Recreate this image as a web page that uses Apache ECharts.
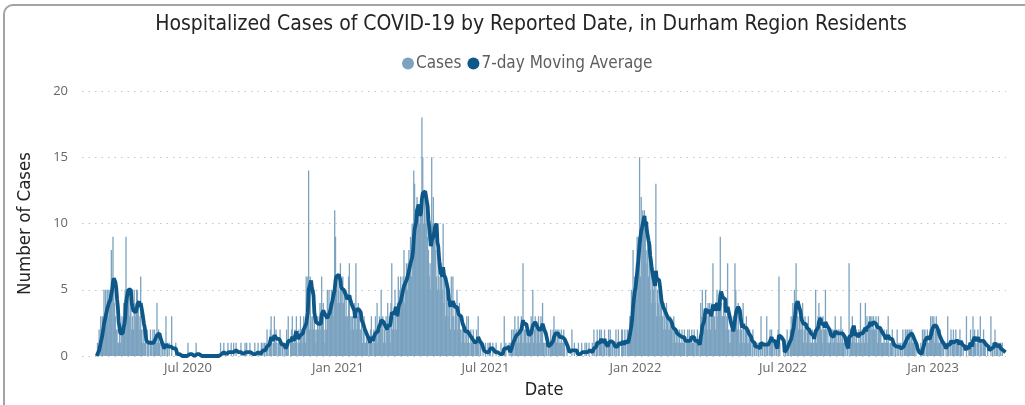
<!DOCTYPE html>
<html>
<head>
<meta charset="utf-8">
<title>Hospitalized Cases of COVID-19 by Reported Date</title>
<script src="https://cdn.jsdelivr.net/npm/echarts@6/dist/echarts.min.js"></script>
<style>
  html, body { margin: 0; padding: 0; background: #fff; overflow: hidden; }
  #chart { position: absolute; left: 0; top: 0; width: 1025px; height: 405px; }
  #frame { position: absolute; left: 3px; top: 4px; width: 1080px; height: 460px; border: 2px solid #a3a3a3; border-radius: 10px; pointer-events: none; }
</style>
</head>
<body>
<div id="chart"></div>
<div id="frame"></div>
<script>
// first reported day of the series
var startDate = '2020-03-11';

// daily hospitalized cases, one line per month (2020 starts Mar 11)
var cases2020 = [
    0,1,0,2,1,3,1, 3,2,5,2,5,3,5, 3,5,4,5,8,5,9,
    5,4,3,2,2,1,1, 2,1,2,3,2,4,3, 5,9,5,4,5,3,5, 4,2,3,2,5,4,3, 5,5,
    4,3,2,6,2,1,2, 1,1,1,0,2,1,1, 0,2,1,0,2,1,2, 1,1,4,1,2,1,0, 1,0,1,
    0,1,0,3,0,1,0, 1,0,0,3,0,0,0, 0,1,0,0,0,0,0, 0,0,0,0,0,0,0, 0,0,
    1,0,0,0,0,0,0, 0,0,0,1,0,0,0, 0,0,0,0,0,0,0, 0,0,0,0,0,0,0, 0,0,0,
    0,0,0,0,0,0,0, 0,0,1,0,0,0,1, 0,0,0,0,1,0,0, 0,1,0,0,1,0,0, 1,0,0,
    0,0,0,1,0,0,0, 0,1,0,1,0,0,0, 1,0,0,0,0,0,1, 0,0,0,1,0,0,0, 1,0,
    1,0,1,0,1,2,1, 0,1,2,3,1,0,1, 3,1,2,1,0,1,1, 2,1,0,1,0,1,0, 1,2,1,
    3,0,0,1,2,3,1, 1,2,1,3,0,1,2, 1,3,2,1,2,3,2, 1,6,3,6,14,2,6, 3,2,
    3,2,5,2,1,2,3, 2,3,4,2,6,3,4, 2,1,3,2,5,3,5, 4,3,5,4,5,3,11, 9,5,4
];
var cases2021 = [
    6,5,4,7,5,4,6, 4,5,3,5,3,3,6, 7,3,2,3,3,2,4, 3,7,2,3,4,3,2, 2,3,1,
    2,3,1,1,2,1,0, 1,1,2,3,1,0,2, 1,3,2,4,1,2,3, 2,5,2,3,1,2,1,
    3,2,4,2,3,1,4, 7,2,3,2,5,3,2, 4,6,5,3,6,4,5, 6,8,4,6,7,5,7, 8,7,9,
    6,10,8,14,13,9,11, 12,10,11,10,11,11,18, 15,10,12,10,12,11,9, 8,6,7,5,15,10,12, 10,9,
    8,6,5,8,6,5,6, 7,5,10,4,6,3,5, 4,3,5,4,2,6,3, 6,3,2,4,3,5,2, 3,4,2,
    2,1,3,2,1,2,1, 3,1,3,1,0,2,1, 1,2,1,0,1,2,1, 3,1,0,1,0,0,1, 0,0,
    1,0,0,1,0,1,1, 0,0,1,0,0,0,1, 0,0,0,0,0,1,0, 0,0,3,0,1,0,0, 0,1,0,
    1,2,1,2,0,3,1, 2,1,3,2,1,2,3, 1,7,1,2,2,1,2, 1,2,1,2,3,2,5, 1,2,3,
    2,1,2,3,1,2,3, 2,4,1,1,0,1,1, 0,1,1,0,2,1,1, 2,3,1,2,1,2,1, 2,1,
    1,2,1,1,2,1,0, 0,1,0,0,0,0,0, 2,0,0,1,0,0,0, 0,1,0,0,0,1,0, 0,0,1,
    0,1,0,0,1,0,0, 0,1,0,2,1,0,1, 2,1,0,2,1,2,1, 0,1,2,0,1,1,0, 2,1,
    2,1,0,1,0,1,0, 2,1,0,2,1,0,0, 2,2,1,0,2,1,0, 2,1,2,3,3,5,4, 8,5,6
];
var cases2022 = [
    5,7,9,8,9,15,6, 12,9,11,10,11,10,8, 7,9,6,8,5,7,4, 6,5,6,4,13,3,5, 4,5,3,
    5,4,3,2,4,3,2, 4,3,2,3,2,3,2, 2,1,3,2,1,2,1, 2,1,2,1,1,2,1,
    1,2,0,1,1,2,1, 2,1,1,2,1,1,2, 0,1,1,2,1,0,1, 4,3,5,3,2,3,5, 3,2,4,
    3,4,2,3,4,7,3, 3,2,4,5,3,4,5, 9,4,3,3,4,3,4, 2,3,7,2,1,2,1, 2,2,
    3,2,7,5,3,2,4, 2,1,3,2,1,4,2, 1,2,3,1,2,1,2, 1,0,1,2,0,1,0, 1,1,0,
    1,0,1,3,0,1,0, 1,1,0,3,1,0,1, 2,1,2,1,0,1,1, 0,1,0,2,6,1,0, 0,0,
    0,1,0,1,0,2,1, 1,0,2,3,2,4,3, 5,3,7,4,3,2,3, 2,3,2,4,1,2,3, 2,1,2,
    3,1,2,1,1,2,1, 1,2,5,1,2,3,4, 2,3,2,1,3,2,2, 5,2,1,2,1,1,2, 2,1,2,
    1,2,3,1,2,1,2, 1,2,3,1,2,1,1, 0,1,0,1,0,7,0, 2,1,3,2,1,2,1, 2,1,
    1,2,1,4,1,2,1, 2,1,4,2,3,1,2, 3,3,2,3,2,3,2, 2,3,2,1,3,2,2, 2,1,1,
    1,2,1,1,2,1,3, 1,0,1,1,2,0,1, 0,1,0,2,0,1,0, 1,0,1,2,0,1,2, 1,2,
    2,1,2,1,2,2,1, 1,1,0,1,0,0,0, 0,0,1,0,2,1,2, 2,0,1,2,1,1,2, 3,2,3
];
var cases2023 = [
    2,3,1,2,3,1,2, 1,1,2,1,0,1,1, 0,0,1,0,3,1,0, 1,2,0,1,2,1,0, 2,1,1,
    1,0,2,1,1,0,1, 0,0,0,3,0,0,1, 1,2,1,0,3,1,2, 1,0,1,2,1,0,3,
    1,1,0,2,1,1,0, 0,1,0,0,0,3,0, 1,0,1,2,0,1,1, 0,1,0,1,0,1,0, 0,0,0
];

var tickDates = ['2020-07-01', '2021-01-01', '2021-07-01', '2022-01-01', '2022-07-01', '2023-01-01'];
var monthNames = ['Jan', 'Feb', 'Mar', 'Apr', 'May', 'Jun', 'Jul', 'Aug', 'Sep', 'Oct', 'Nov', 'Dec'];

var cases = cases2020.concat(cases2021, cases2022, cases2023);
var DAY = 86400000;
var t0 = Date.parse(startDate);

var barData = [];
var avgData = [];
for (var i = 0; i < cases.length; i++) {
    var t = t0 + i * DAY;
    barData.push([t, cases[i]]);
    // 7-day trailing moving average of the cases above
    var s = 0;
    for (var j = i - 6; j <= i; j++) {
        if (j >= 0) s += cases[j];
    }
    avgData.push([t, +(s / 7).toFixed(2)]);
}

var condensed = '"DejaVu Sans Condensed", "DejaVu Sans", sans-serif';

var chart = echarts.init(document.getElementById('chart'));
var option = {
    animation: false,
    backgroundColor: '#fff',
    title: {
        text: 'Hospitalized Cases of COVID-19 by Reported Date, in Durham Region Residents',
        left: 526,
        textAlign: 'center',
        top: 9,
        textStyle: { fontFamily: condensed, fontSize: 21, fontWeight: 'normal', color: '#252423' }
    },
    legend: {
        data: ['Cases', '7-day Moving Average'],
        left: 397,
        top: 50,
        icon: 'circle',
        itemWidth: 12,
        itemHeight: 12,
        itemGap: 6,
        textStyle: { fontFamily: condensed, fontSize: 17, color: '#605E5C', padding: [0, 0, 0, -3] }
    },
    grid: { left: 82, right: 19, top: 91, bottom: 49 },
    xAxis: {
        // dates as millisecond values, labelled at the half-year marks
        type: 'value',
        min: Date.parse('2020-02-22'),
        max: Date.parse('2023-03-31') + DAY / 2,
        name: 'Date',
        nameLocation: 'middle',
        nameGap: 25,
        nameTextStyle: { fontFamily: condensed, fontSize: 18, color: '#252423' },
        axisLine: { show: false },
        axisTick: { show: false },
        splitLine: { show: false },
        axisLabel: {
            customValues: tickDates.map(function (d) { return Date.parse(d); }),
            formatter: function (val) {
                var d = new Date(val);
                return monthNames[d.getUTCMonth()] + ' ' + d.getUTCFullYear();
            },
            margin: 6,
            color: '#666',
            fontSize: 13,
            fontFamily: '"Open Sans", sans-serif'
        }
    },
    yAxis: {
        type: 'value',
        min: 0,
        max: 20,
        interval: 5,
        name: 'Number of Cases',
        nameLocation: 'middle',
        nameGap: 47,
        nameTextStyle: { fontFamily: condensed, fontSize: 18.5, color: '#252423' },
        axisLine: { show: false },
        axisTick: { show: false },
        axisLabel: { margin: 14, color: '#666', fontSize: 13, fontFamily: '"Open Sans", sans-serif' },
        splitLine: { lineStyle: { color: '#c4c4c4', width: 1, type: [1.5, 5] } }
    },
    series: [
        {
            name: 'Cases',
            type: 'bar',
            data: barData,
            barWidth: 1.3,
            itemStyle: { color: '#7ba3c0' },
            emphasis: { disabled: true }
        },
        {
            name: '7-day Moving Average',
            type: 'line',
            data: avgData,
            showSymbol: false,
            symbol: 'circle',
            lineStyle: { color: '#0e5889', width: 3.8 },
            itemStyle: { color: '#0e5889' },
            emphasis: { disabled: true },
            z: 3
        }
    ]
};
chart.setOption(option);
window.addEventListener('resize', function () {
    chart.resize();
});
</script>
</body>
</html>
